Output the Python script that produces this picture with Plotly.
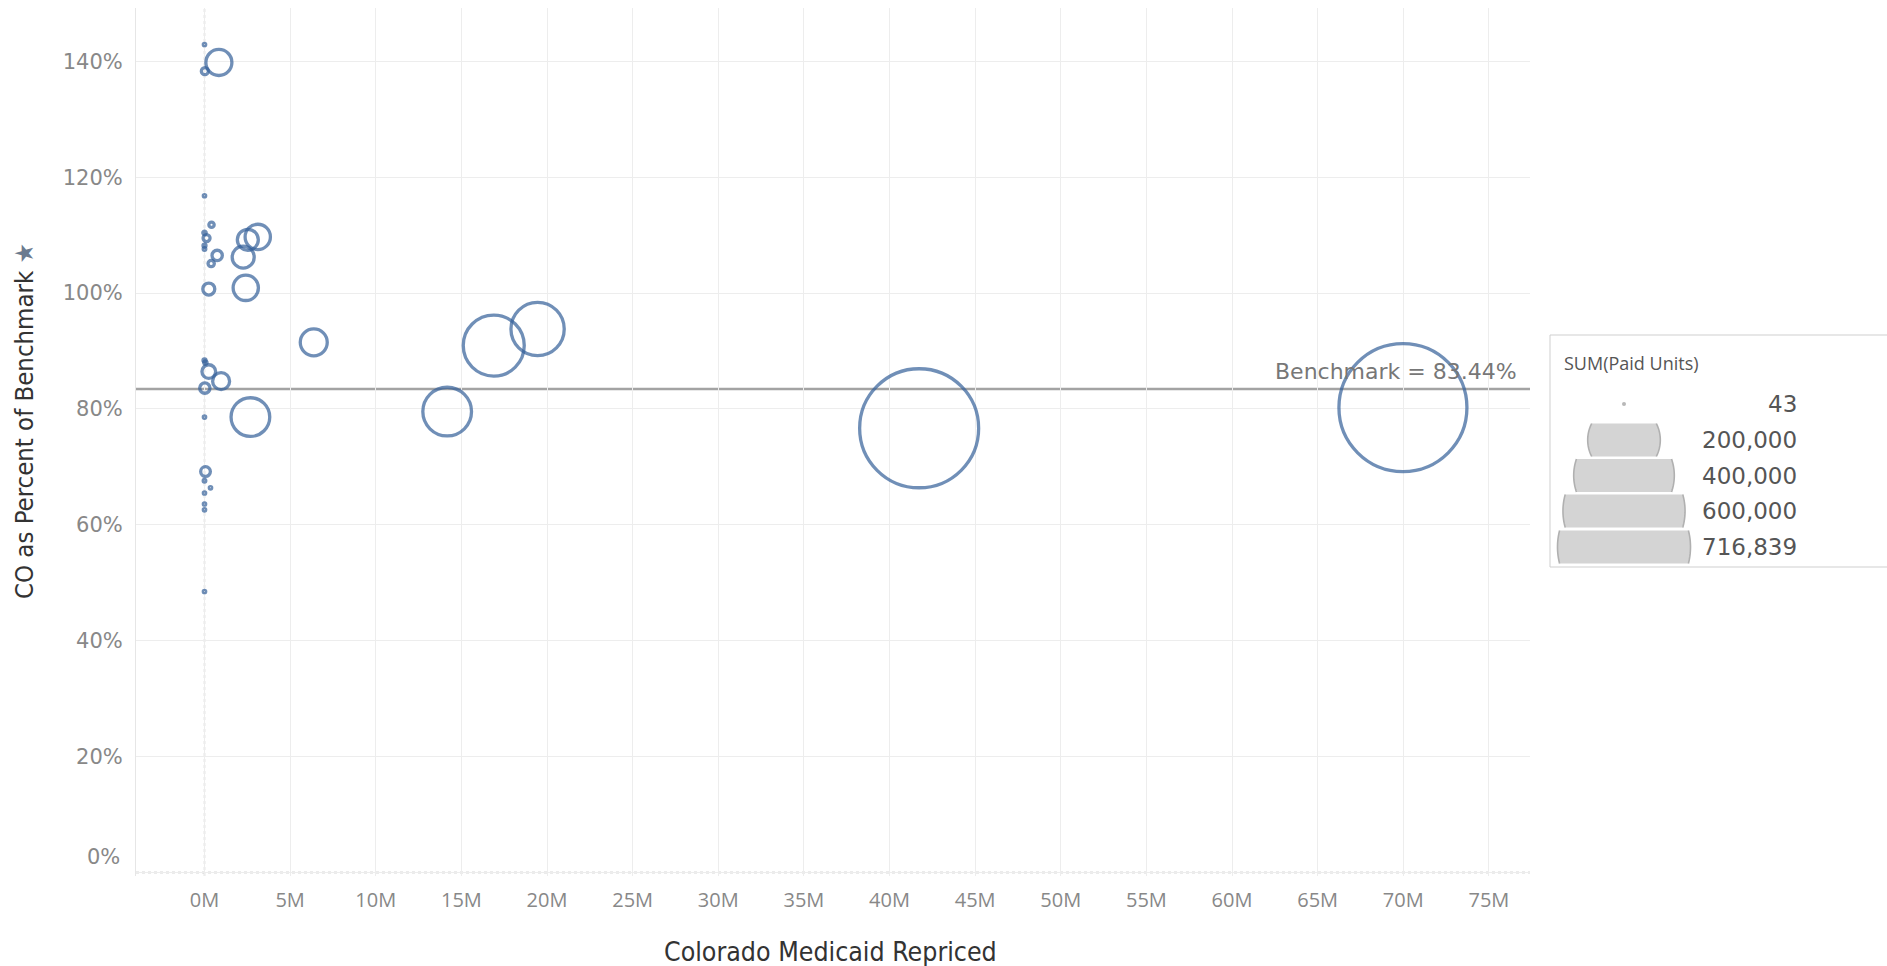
import math
import plotly.graph_objects as go

# ---------------- data ----------------
SPEND_M = [0.0, 0.84, 0.02, 0.0, 0.41, 0.12, 0.0, 0.0, 0.0, 0.74, 0.39, 2.26, 2.53, 3.11,
           0.25, 2.41, 6.38, 0.0, 0.05, 0.25, 0.97, 0.02, 2.68, 0.0, 0.06, 0.0, 0.35,
           0.0, 0.0, 0.0, 0.0, 14.17, 16.89, 19.45, 41.73, 69.98]
PCT_BENCH = [142.9, 139.8, 138.3, 116.8, 111.8, 109.5, 110.4, 108.2, 107.6, 106.5, 105.1, 106.2,
             109.2, 109.7, 100.7, 100.9, 91.5, 88.4, 88.0, 86.45, 84.8, 83.6, 78.6, 78.6, 69.2,
             67.6, 66.4, 65.5, 63.6, 62.6, 48.5, 79.55, 90.94, 93.8, 76.67, 80.24]
PAID_UNITS = [43, 29600, 2140, 150, 1230, 2140, 500, 400, 300, 4640, 1740, 21200,
              19300, 28000, 6300, 28000, 31900, 400, 500, 8200, 12600, 4640, 65500, 150, 4120,
              300, 150, 200, 150, 150, 100, 103800, 162800, 124300, 619600, 716839]
BENCHMARK = 83.44
X_TICKS = [0, 5, 10, 15, 20, 25, 30, 35, 40, 45, 50, 55, 60, 65, 70, 75]
Y_TICKS = [0, 20, 40, 60, 80, 100, 120, 140]
LEGEND_VALUES = [43, 200000, 400000, 600000, 716839]

# ---------------- layout geometry (page pixels) ----------------
W, H = 1887, 966
PLOT_L, PLOT_R, PLOT_T, PLOT_B = 136, 1530, 8, 876
ML, MT = PLOT_L, PLOT_T
MR = W - PLOT_R
MB = H - PLOT_B
PW, PH = PLOT_R - PLOT_L, PLOT_B - PLOT_T
BLUE = "#34609a"
D_MAX = 128
sizeref = 2.0 * max(PAID_UNITS) / D_MAX ** 2


def px2paper(px, py):
    return (px - PLOT_L) / PW, (PLOT_B - py) / PH


fig = go.Figure(go.Scatter(
    x=SPEND_M, y=PCT_BENCH, mode="markers", hoverinfo="skip",
    marker=dict(size=PAID_UNITS, sizemode="area", sizeref=sizeref, sizemin=1.2,
                color="rgba(0,0,0,0)", line=dict(color=BLUE, width=3.3)),
))

shapes = [
    dict(type="line", xref="x", yref="paper", x0=0, x1=0, y0=0, y1=1, layer="between",
         line=dict(color="#b0b0b0", width=1.3, dash="dot")),
    dict(type="line", xref="paper", yref="y", x0=0, x1=1, y0=0, y1=0, layer="between",
         line=dict(color="#b0b0b0", width=1.3, dash="dot")),
    dict(type="line", xref="paper", yref="y", x0=0, x1=1, y0=BENCHMARK, y1=BENCHMARK,
         layer="between", line=dict(color="#a3a3a3", width=2.6)),
]

# ---------------- size legend (drawn) ----------------
box_x0, box_y0, box_y1 = 1550, 335, 567
bx0, by0 = px2paper(box_x0, box_y0)
bx1, by1 = px2paper(W + 5, box_y1)
shapes.append(dict(type="rect", xref="paper", yref="paper", x0=bx0, x1=bx1, y0=by1, y1=by0,
                   fillcolor="white", line=dict(color="#cfcfcf", width=1), layer="above"))

annotations = []
row_cy = [404, 440, 475.5, 511, 547]
cx = 1624
half_band = 16.5
for v, cy in zip(LEGEND_VALUES, row_cy):
    r = (D_MAX * math.sqrt(v / max(LEGEND_VALUES)) + 5) / 2
    if v == min(LEGEND_VALUES):
        x0, y0 = px2paper(cx - 2, cy - 2)
        x1, y1 = px2paper(cx + 2, cy + 2)
        shapes.append(dict(type="circle", xref="paper", yref="paper", x0=x0, x1=x1, y0=y1, y1=y0,
                           fillcolor="#b8b8b8", line=dict(width=0), layer="above"))
    else:
        a = math.asin(min(1.0, half_band / r))
        n = 24
        right = [(cx + r * math.cos(-a + 2 * a * i / n), cy + r * math.sin(-a + 2 * a * i / n)) for i in range(n + 1)]
        left = [(cx - r * math.cos(a - 2 * a * i / n), cy + r * math.sin(a - 2 * a * i / n)) for i in range(n + 1)]
        pts = right + left
        path = "M " + " L ".join("%.5f,%.5f" % px2paper(px, py) for px, py in pts) + " Z"
        shapes.append(dict(type="path", xref="paper", yref="paper", path=path,
                           fillcolor="#d4d4d4", line=dict(width=0), layer="above"))
        for side in (right, left):
            p = "M " + " L ".join("%.5f,%.5f" % px2paper(px, py) for px, py in side)
            shapes.append(dict(type="path", xref="paper", yref="paper", path=p,
                               line=dict(color="#b0b0b0", width=1.6), layer="above"))
    lx, ly = px2paper(1799, cy)
    annotations.append(dict(xref="paper", yref="paper", x=lx, y=ly, xanchor="right", yanchor="middle",
                            text=f"{v:,}", showarrow=False,
                            font=dict(family="DejaVu Sans", size=23, color="#555555")))

tx, ty = px2paper(1562, 363)
annotations.append(dict(xref="paper", yref="paper", x=tx, y=ty, xanchor="left", yanchor="middle",
                        text="SUM(Paid Units)", showarrow=False,
                        font=dict(family="Open Sans", size=18, color="#555555")))

# benchmark label
bx, _ = px2paper(1519, 0)
annotations.append(dict(xref="paper", yref="y", x=bx, y=BENCHMARK, xanchor="right", yanchor="bottom",
                        yshift=3, text=f"Benchmark = {BENCHMARK:.2f}%", showarrow=False,
                        font=dict(family="DejaVu Sans", size=22, color="#777777")))

# 0% tick label (nudged up as in the reference)
zx, zy = px2paper(122, 857)
annotations.append(dict(xref="paper", yref="paper", x=zx, y=zy, xanchor="right", yanchor="middle",
                        text=f"{Y_TICKS[0]}%", showarrow=False,
                        font=dict(family="DejaVu Sans", size=21, color="#888888")))

# axis titles
ax, ay = px2paper(830, 951)
annotations.append(dict(xref="paper", yref="paper", x=ax, y=ay, xanchor="center", yanchor="middle",
                        text="Colorado Medicaid Repriced", showarrow=False,
                        font=dict(family="Liberation Sans Narrow, DejaVu Sans Condensed, sans-serif",
                                  size=26.5, color="#333333")))
yx, yy = px2paper(24, 421)
annotations.append(dict(xref="paper", yref="paper", x=yx, y=yy, xanchor="center", yanchor="middle",
                        textangle=-90, text="CO as Percent of Benchmark <span style='color:#6b7b8f'>★</span>",
                        showarrow=False,
                        font=dict(family="Liberation Sans Narrow, DejaVu Sans Condensed, sans-serif",
                                  size=25.5, color="#333333")))

fig.update_layout(
    width=W, height=H, margin=dict(l=ML, r=MR, t=MT, b=MB, pad=0),
    paper_bgcolor="white", plot_bgcolor="white", showlegend=False,
    shapes=shapes, annotations=annotations,
    xaxis=dict(range=[-4, 77.4], tickvals=X_TICKS, ticktext=[f"{v}M" for v in X_TICKS],
               showgrid=True, gridcolor="#ededed", gridwidth=1, zeroline=False, showline=False,
               ticks="", ticklabelstandoff=10,
               tickfont=dict(family="Open Sans", size=20, color="#888888")),
    yaxis=dict(range=[-0.6, 149.2], tickvals=Y_TICKS,
               ticktext=[f"{v}%" if v else "" for v in Y_TICKS],
               showgrid=True, gridcolor="#ededed", gridwidth=1, zeroline=False,
               showline=True, linecolor="#e6e6e6", linewidth=1,
               ticks="", ticklabelstandoff=8,
               tickfont=dict(family="DejaVu Sans", size=21, color="#888888")),
)

fig.write_html("out.html", config={"displayModeBar": False},
               post_script="document.body.style.margin='0px';document.body.style.overflow='hidden';")
